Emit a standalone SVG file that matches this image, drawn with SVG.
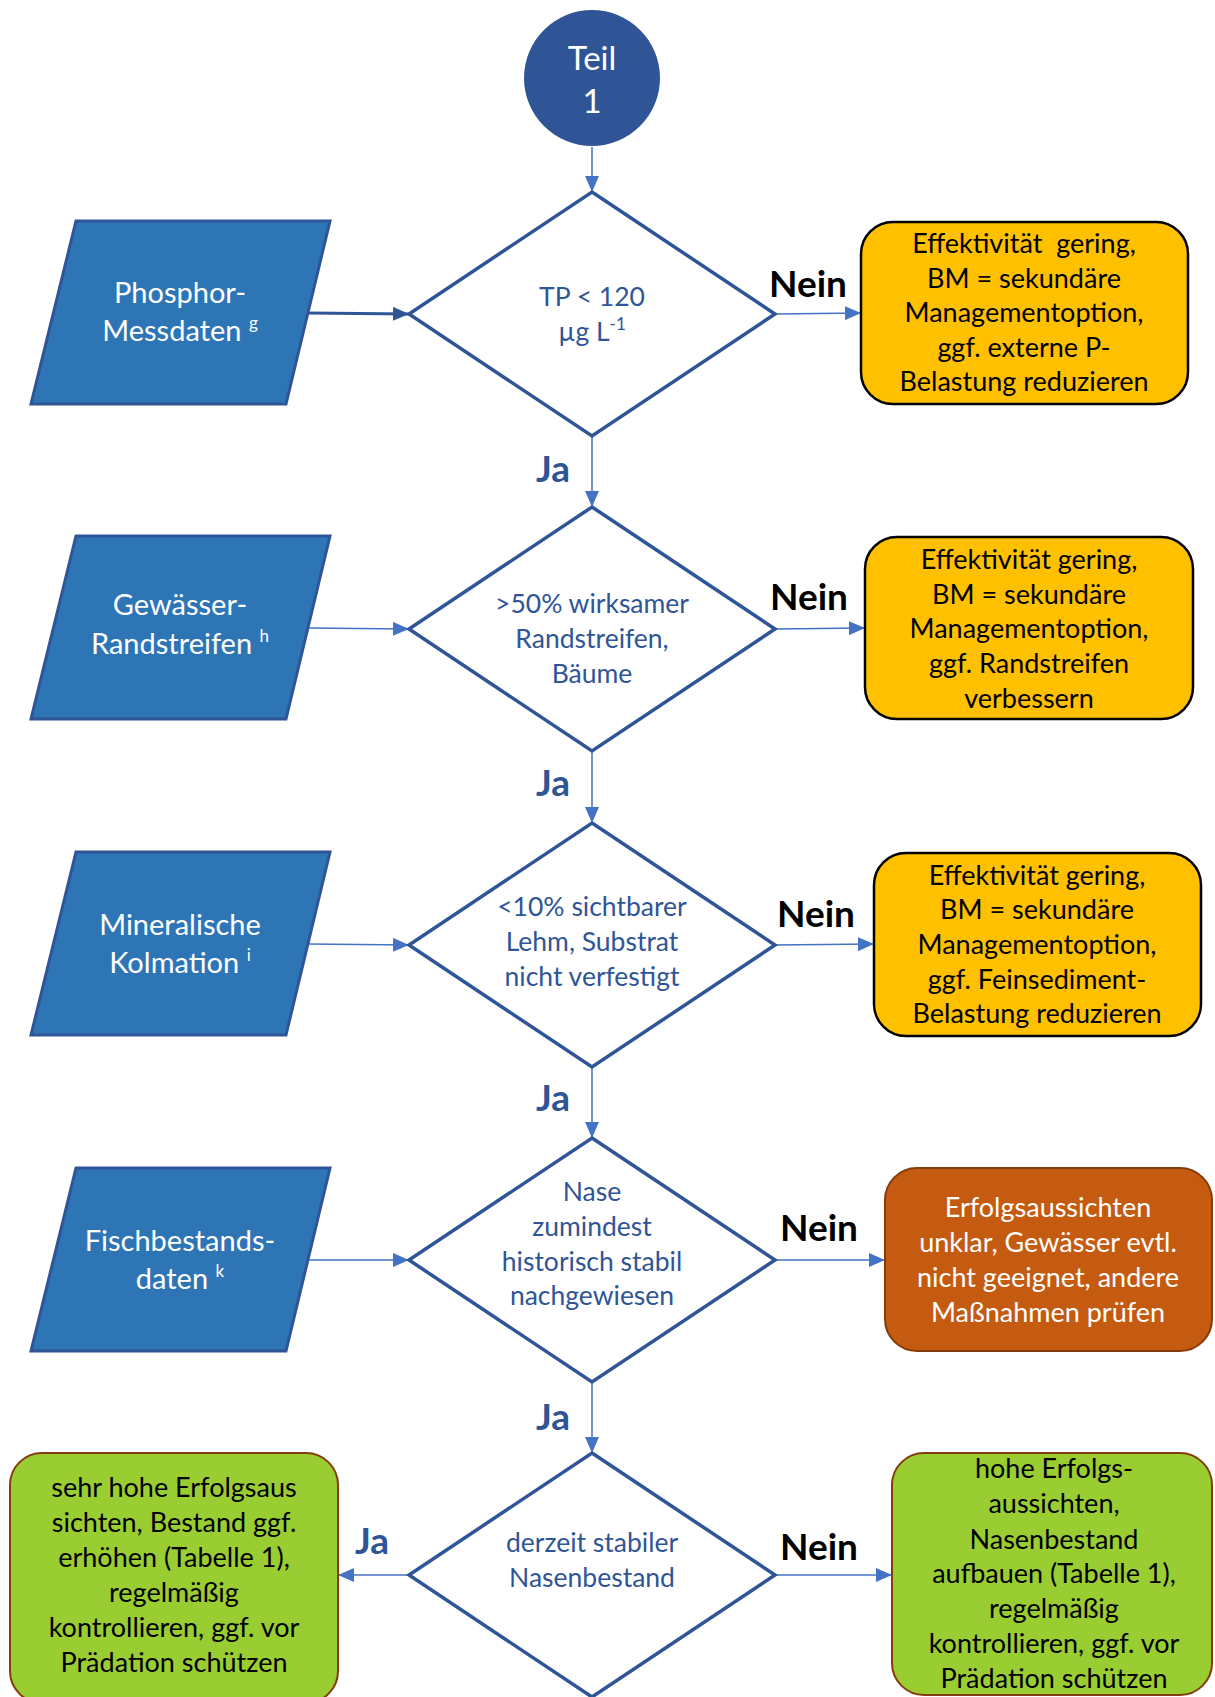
<svg xmlns="http://www.w3.org/2000/svg" width="1215" height="1697" viewBox="0 0 1215 1697">
<defs>
<marker id="ah" markerUnits="userSpaceOnUse" markerWidth="16" markerHeight="14" viewBox="0 0 16 14" refX="16" refY="7" orient="auto">
<path d="M0,0 L16,7 L0,14 Z" fill="#4472C4"/>
</marker>
<marker id="ahd" markerUnits="userSpaceOnUse" markerWidth="16" markerHeight="14" viewBox="0 0 16 14" refX="16" refY="7" orient="auto">
<path d="M0,0 L16,7 L0,14 Z" fill="#2F5597"/>
</marker>
<style>
.t{font-family:Lato,"Liberation Sans",sans-serif;text-anchor:middle}
.dec{fill:#fff;stroke:#2F5597;stroke-width:3.5}
.dt{font-size:26.5px;fill:#2F5597}
.inp{fill:#2E75B6;stroke:#2F5597;stroke-width:3}
.it{font-size:29px;fill:#fff}
.yel{fill:#FFC000;stroke:#000;stroke-width:2.5}
.ora{fill:#C55A11;stroke:#843C0C;stroke-width:2}
.grn{fill:#9ACD32;stroke:#843C0C;stroke-width:2}
.bt{font-size:27px;fill:#000}
.wt{font-size:27px;fill:#fff}
.nein{font-size:37px;font-weight:bold;fill:#000}
.ja{font-size:37px;font-weight:bold;fill:#2F5597}
.sup{font-size:17px}
.c{fill:none;stroke:#4472C4;stroke-width:1.5;marker-end:url(#ah)}
.cd{fill:none;stroke:#2F5597;stroke-width:3;marker-end:url(#ahd)}
</style>
</defs>

<g id="connectors">
<path class="c" d="M592,147 L592,192"/>
<path class="c" d="M592,437 L592,507"/>
<path class="c" d="M592,752 L592,823"/>
<path class="c" d="M592,1067 L592,1138"/>
<path class="c" d="M592,1382 L592,1453"/>
<path class="cd" d="M308,313 L409,314"/>
<path class="c" d="M308,628 L409,629"/>
<path class="c" d="M308,944 L409,945"/>
<path class="c" d="M308,1260 L409,1260"/>
<path class="c" d="M775,314 L861,313"/>
<path class="c" d="M775,629 L865,628"/>
<path class="c" d="M775,945 L874,944"/>
<path class="c" d="M775,1260 L885,1260"/>
<path class="c" d="M775,1575 L892,1575"/>
<path class="c" d="M409,1575 L338,1575"/>
<text class="t nein" x="808" y="297">Nein</text>
<text class="t nein" x="809" y="610">Nein</text>
<text class="t nein" x="816" y="927">Nein</text>
<text class="t nein" x="819" y="1241">Nein</text>
<text class="t nein" x="819" y="1560">Nein</text>
<text class="t ja" x="553" y="482">Ja</text>
<text class="t ja" x="553" y="796">Ja</text>
<text class="t ja" x="553" y="1111">Ja</text>
<text class="t ja" x="553" y="1430">Ja</text>
<text class="t ja" x="372" y="1554">Ja</text>
</g>

<g id="start">
<circle cx="592" cy="78" r="68" fill="#2F5597"/>
<text class="t" style="font-size:33px;fill:#fff" x="592" y="70">Teil</text>
<text class="t" style="font-size:33px;fill:#fff" x="592" y="113">1</text>
</g>

<g id="d1">
<polygon class="dec" points="592,192 775,314 592,436 409,314"/>
<text class="t dt" x="592" y="306">TP &lt; 120</text>
<text class="t dt" x="592" y="341">µg L<tspan class="sup" dy="-11">-1</tspan></text>
</g>
<g id="d2">
<polygon class="dec" points="592,507 775,629 592,751 409,629"/>
<text class="t dt" x="592" y="613">&gt;50% wirksamer</text>
<text class="t dt" x="592" y="648">Randstreifen,</text>
<text class="t dt" x="592" y="683">Bäume</text>
</g>
<g id="d3">
<polygon class="dec" points="592,823 775,945 592,1067 409,945"/>
<text class="t dt" x="592" y="916">&lt;10% sichtbarer</text>
<text class="t dt" x="592" y="951">Lehm, Substrat</text>
<text class="t dt" x="592" y="986">nicht verfestigt</text>
</g>
<g id="d4">
<polygon class="dec" points="592,1138 775,1260 592,1382 409,1260"/>
<text class="t dt" x="592" y="1201">Nase</text>
<text class="t dt" x="592" y="1236">zumindest</text>
<text class="t dt" x="592" y="1271">historisch stabil</text>
<text class="t dt" x="592" y="1305">nachgewiesen</text>
</g>
<g id="d5">
<polygon class="dec" points="592,1453 775,1575 592,1697 409,1575"/>
<text class="t dt" x="592" y="1552">derzeit stabiler</text>
<text class="t dt" x="592" y="1587">Nasenbestand</text>
</g>

<g id="i1">
<polygon class="inp" points="76,221 330,221 286,404 31,404"/>
<text class="t it" x="180" y="303">Phosphor-</text>
<text class="t it" x="180" y="341">Messdaten <tspan class="sup" dy="-12">g</tspan></text>
</g>
<g id="i2">
<polygon class="inp" points="76,536 330,536 286,719 31,719"/>
<text class="t it" x="180" y="615">Gewässer-</text>
<text class="t it" x="180" y="654">Randstreifen <tspan class="sup" dy="-12">h</tspan></text>
</g>
<g id="i3">
<polygon class="inp" points="76,852 330,852 286,1035 31,1035"/>
<text class="t it" x="180" y="935">Mineralische</text>
<text class="t it" x="180" y="973">Kolmation <tspan class="sup" dy="-12">i</tspan></text>
</g>
<g id="i4">
<polygon class="inp" points="76,1168 330,1168 286,1351 31,1351"/>
<text class="t it" x="180" y="1251">Fischbestands-</text>
<text class="t it" x="180" y="1289">daten <tspan class="sup" dy="-12">k</tspan></text>
</g>

<g id="r1">
<rect class="yel" x="861" y="222" width="327" height="182" rx="32"/>
<text class="t bt" x="1024" y="253">Effektivität&#160; gering,</text>
<text class="t bt" x="1024" y="288">BM = sekundäre</text>
<text class="t bt" x="1024" y="322">Managementoption,</text>
<text class="t bt" x="1024" y="357">ggf. externe P-</text>
<text class="t bt" x="1024" y="391">Belastung reduzieren</text>
</g>
<g id="r2">
<rect class="yel" x="865" y="537" width="328" height="182" rx="32"/>
<text class="t bt" x="1029" y="569">Effektivität gering,</text>
<text class="t bt" x="1029" y="604">BM = sekundäre</text>
<text class="t bt" x="1029" y="638">Managementoption,</text>
<text class="t bt" x="1029" y="673">ggf. Randstreifen</text>
<text class="t bt" x="1029" y="708">verbessern</text>
</g>
<g id="r3">
<rect class="yel" x="874" y="853" width="327" height="183" rx="32"/>
<text class="t bt" x="1037" y="885">Effektivität gering,</text>
<text class="t bt" x="1037" y="919">BM = sekundäre</text>
<text class="t bt" x="1037" y="954">Managementoption,</text>
<text class="t bt" x="1037" y="989">ggf. Feinsediment-</text>
<text class="t bt" x="1037" y="1023">Belastung reduzieren</text>
</g>
<g id="r4">
<rect class="ora" x="885" y="1168" width="327" height="183" rx="32"/>
<text class="t wt" x="1048" y="1217">Erfolgsaussichten</text>
<text class="t wt" x="1048" y="1252">unklar, Gewässer evtl.</text>
<text class="t wt" x="1048" y="1287">nicht geeignet, andere</text>
<text class="t wt" x="1048" y="1322">Maßnahmen prüfen</text>
</g>
<g id="r5">
<rect class="grn" x="10" y="1453" width="328" height="250" rx="32"/>
<text class="t bt" x="174" y="1497">sehr hohe Erfolgsaus</text>
<text class="t bt" x="174" y="1532">sichten, Bestand ggf.</text>
<text class="t bt" x="174" y="1567">erhöhen (Tabelle 1),</text>
<text class="t bt" x="174" y="1602">regelmäßig</text>
<text class="t bt" x="174" y="1637">kontrollieren, ggf. vor</text>
<text class="t bt" x="174" y="1672">Prädation schützen</text>
</g>
<g id="r6">
<rect class="grn" x="892" y="1453" width="320" height="242" rx="32"/>
<text class="t bt" x="1054" y="1478">hohe Erfolgs-</text>
<text class="t bt" x="1054" y="1513">aussichten,</text>
<text class="t bt" x="1054" y="1549">Nasenbestand</text>
<text class="t bt" x="1054" y="1583">aufbauen (Tabelle 1),</text>
<text class="t bt" x="1054" y="1618">regelmäßig</text>
<text class="t bt" x="1054" y="1653">kontrollieren, ggf. vor</text>
<text class="t bt" x="1054" y="1688">Prädation schützen</text>
</g>
</svg>
